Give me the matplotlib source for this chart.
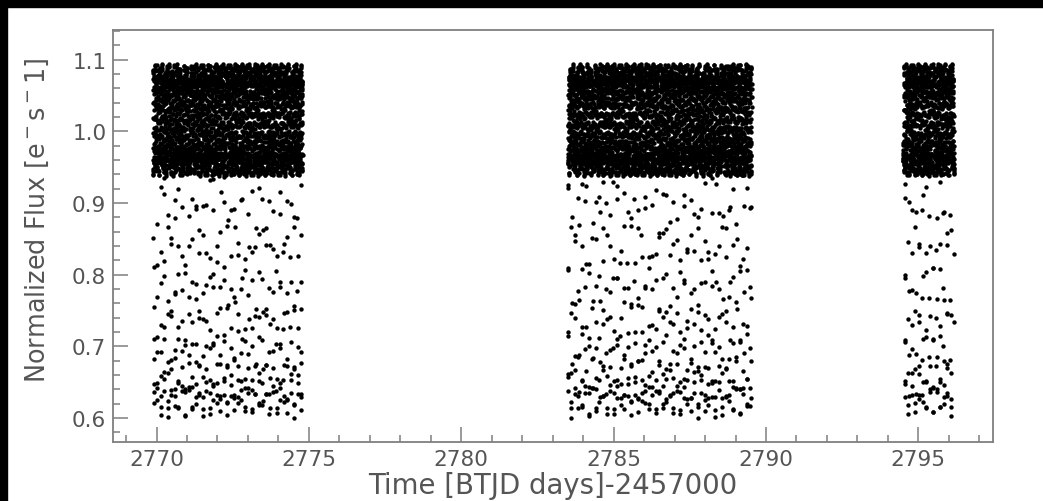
import numpy as np
import matplotlib.pyplot as plt
from matplotlib.ticker import MultipleLocator

# segmentos de observacion (BTJD) y cadencia de 2 min
seg_inicio = [2769.88, 2783.49, 2794.50]
seg_fin = [2774.79, 2789.53, 2796.17]
cadencia = 2.0 / 60 / 24

# modelo: eclipse (periodo orbital) + dos pulsaciones fuera del eclipse
periodo_orb = 82.95 * cadencia
periodo_pul = 0.03371
periodo_pul2 = 0.02137
t0 = 2769.905
semiancho_eclipse = 0.058
flujo_minimo = 0.602
banda_baja = 0.950
banda_alta = 1.082
amp_pul2 = 0.012
forma_eclipse = 1.9

tiempos = np.concatenate([np.arange(a, b, cadencia) for a, b in zip(seg_inicio, seg_fin)])

fase = ((tiempos - t0) / periodo_orb) % 1.0
d = np.where(fase < 0.5, fase, fase - 1.0)
g = np.clip(np.abs(d) / semiancho_eclipse, 0, 1) ** forma_eclipse
h = 0.5 + 0.5 * np.sin(2 * np.pi * (tiempos - t0) / periodo_pul)
h2 = np.sin(2 * np.pi * (tiempos - t0) / periodo_pul2 + 1.3)
flujo = (flujo_minimo + (banda_baja - flujo_minimo) * g
         + ((banda_alta - banda_baja) * h + amp_pul2 * h2) * (0.25 + 0.75 * g))

fig = plt.figure(figsize=(10.43, 5.02), dpi=100)
ax = fig.add_axes([0.1086, 0.1181, 0.8432, 0.8201])
ax.scatter(tiempos, flujo, s=10, c='black', linewidths=0)

ax.set_xlim(2768.58, 2797.44)
ax.set_ylim(0.567, 1.1414)
ax.xaxis.set_major_locator(MultipleLocator(5))
ax.xaxis.set_minor_locator(MultipleLocator(1))
ax.yaxis.set_major_locator(MultipleLocator(0.1))
ax.yaxis.set_minor_locator(MultipleLocator(0.02))
ax.yaxis.set_major_formatter(plt.FormatStrFormatter('%.1f'))

gris = '#7f7f7f'
for s in ax.spines.values():
    s.set_color(gris)
    s.set_linewidth(1.3)
ax.tick_params(which='both', direction='in', colors=gris, labelcolor='#555555', labelsize=15.5, width=1.1)
ax.tick_params(which='major', length=11, pad=5)
ax.tick_params(which='minor', length=5)

ax.set_xlabel('Time [BTJD days]-2457000', fontsize=19.8, color='#555555', labelpad=2)
ax.set_ylabel(r'Normalized Flux [e$^-$s$^-$1]', fontsize=18.4, color='#555555')
ax.yaxis.set_label_coords(-0.071, 0.540)

# franjas oscuras en los bordes superior e izquierdo
fig.patches.append(plt.Rectangle((0, 1 - 8 / 502), 1, 8 / 502, transform=fig.transFigure, color='black', zorder=0))
fig.patches.append(plt.Rectangle((0, 0), 7 / 1043, 1, transform=fig.transFigure, color='black', zorder=0))

fig.savefig('out.png', dpi=100)
